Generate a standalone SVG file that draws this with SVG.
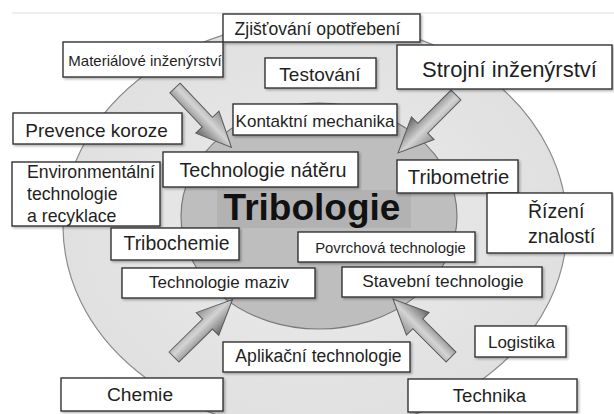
<svg xmlns="http://www.w3.org/2000/svg" width="614" height="414" viewBox="0 0 614 414">
<defs>
<style>
.bx{fill:#fff;stroke:#333;stroke-width:1.4;filter:url(#sh)}
.t{font-family:"Liberation Sans",Arial,sans-serif;fill:#1f1f1f;text-anchor:middle}
.tl{font-family:"Liberation Sans",Arial,sans-serif;fill:#1f1f1f}
.arr{fill:url(#ag);stroke:#5a5a5a;stroke-width:1}
</style>
<filter id="sh" x="-10%" y="-20%" width="130%" height="150%">
<feDropShadow dx="1.5" dy="1.5" stdDeviation="1" flood-color="#000" flood-opacity="0.3"/>
</filter>
<linearGradient id="ag" x1="0" y1="0" x2="0" y2="1">
<stop offset="0" stop-color="#929292"/>
<stop offset="0.45" stop-color="#d4d4d4"/>
<stop offset="1" stop-color="#666"/>
</linearGradient>
<radialGradient id="og" cx="0.5" cy="0.5" r="0.5">
<stop offset="0" stop-color="#ececec"/>
<stop offset="1" stop-color="#e0e0e0"/>
</radialGradient>
<path id="arrow" class="arr" d="M0,-7 L47,-7 L47,-16 L82,0 L47,16 L47,7 L0,7 Z"/>
</defs>
<rect width="614" height="414" fill="#fff"/>
<line x1="12" y1="13" x2="614" y2="13" stroke="#dedede" stroke-width="1"/>
<g id="background">
<ellipse cx="315" cy="226" rx="252" ry="205" fill="url(#og)" stroke="#8c8c8c" stroke-width="1.2"/>
<ellipse cx="319" cy="216" rx="138" ry="113" fill="#bebebe" stroke="#7a7a7a" stroke-width="1.2"/>
<rect x="217" y="190" width="194" height="38" fill="#b2b2b2"/>
</g>
<g id="connectors">
<use href="#arrow" transform="translate(175,88) rotate(46.5)"/>
<use href="#arrow" transform="translate(456,95) rotate(135)"/>
<use href="#arrow" transform="translate(174,357) rotate(-44.5)"/>
<use href="#arrow" transform="translate(451,357) rotate(-135)"/>
</g>
<g id="center"><text class="t" x="312" y="220" font-size="37" font-weight="bold" style="fill:#111">Tribologie</text></g>
<g id="n-zjistovani"><rect class="bx" x="223" y="14" width="197" height="28"/><text class="t" x="317.5" y="35" font-size="17.6">Zjišťování opotřebení</text></g>
<g id="n-materialove"><rect class="bx" x="63" y="42" width="160" height="35"/><text class="t" x="145" y="66" font-size="15">Materiálové inženýrství</text></g>
<g id="n-testovani"><rect class="bx" x="265" y="58" width="111" height="30"/><text class="t" x="320" y="81" font-size="19">Testování</text></g>
<g id="n-strojni"><rect class="bx" x="397" y="45" width="215" height="44"/><text class="t" x="509.5" y="77" font-size="22">Strojní inženýrství</text></g>
<g id="n-kontaktni"><rect class="bx" x="233" y="104" width="164" height="31"/><text class="t" x="315" y="127" font-size="17">Kontaktní mechanika</text></g>
<g id="n-prevence"><rect class="bx" x="13" y="113" width="169" height="31"/><text class="t" x="96.5" y="137" font-size="19">Prevence koroze</text></g>
<g id="n-nateru"><rect class="bx" x="163" y="152" width="195" height="35"/><text class="t" x="263" y="177" font-size="19.8">Technologie nátěru</text></g>
<g id="n-environ"><rect class="bx" x="12" y="162" width="148" height="64"/><text class="tl" x="27" y="178" font-size="17.7">Environmentální</text><text class="tl" x="27" y="200" font-size="17.7">technologie</text><text class="tl" x="27" y="222" font-size="17.7">a recyklace</text></g>
<g id="n-tribometrie"><rect class="bx" x="397" y="160" width="121" height="33"/><text class="t" x="458.5" y="184" font-size="20.2">Tribometrie</text></g>
<g id="n-rizeni"><rect class="bx" x="487" y="193" width="125" height="60"/><text class="tl" x="528" y="218" font-size="19.5">Řízení</text><text class="tl" x="528" y="243" font-size="19.5">znalostí</text></g>
<g id="n-tribochemie"><rect class="bx" x="111" y="228" width="128" height="32"/><text class="t" x="176.5" y="250" font-size="19.4">Tribochemie</text></g>
<g id="n-povrchova"><rect class="bx" x="298" y="232" width="177" height="30"/><text class="t" x="390.5" y="253" font-size="14.9">Povrchová technologie</text></g>
<g id="n-maziv"><rect class="bx" x="122" y="268" width="193" height="30"/><text class="t" x="219" y="288" font-size="17">Technologie maziv</text></g>
<g id="n-stavebni"><rect class="bx" x="342" y="267" width="200" height="30"/><text class="t" x="443" y="287" font-size="17.3">Stavební technologie</text></g>
<g id="n-aplikacni"><rect class="bx" x="223" y="342" width="187" height="30"/><text class="t" x="318.5" y="362" font-size="17.6">Aplikační technologie</text></g>
<g id="n-logistika"><rect class="bx" x="475" y="326" width="91" height="31"/><text class="t" x="521.5" y="348" font-size="17">Logistika</text></g>
<g id="n-chemie"><rect class="bx" x="61" y="378" width="162" height="33"/><text class="t" x="140" y="401" font-size="19.2">Chemie</text></g>
<g id="n-technika"><rect class="bx" x="408" y="379" width="169" height="33"/><text class="t" x="489.5" y="402" font-size="18.6">Technika</text></g>
</svg>
